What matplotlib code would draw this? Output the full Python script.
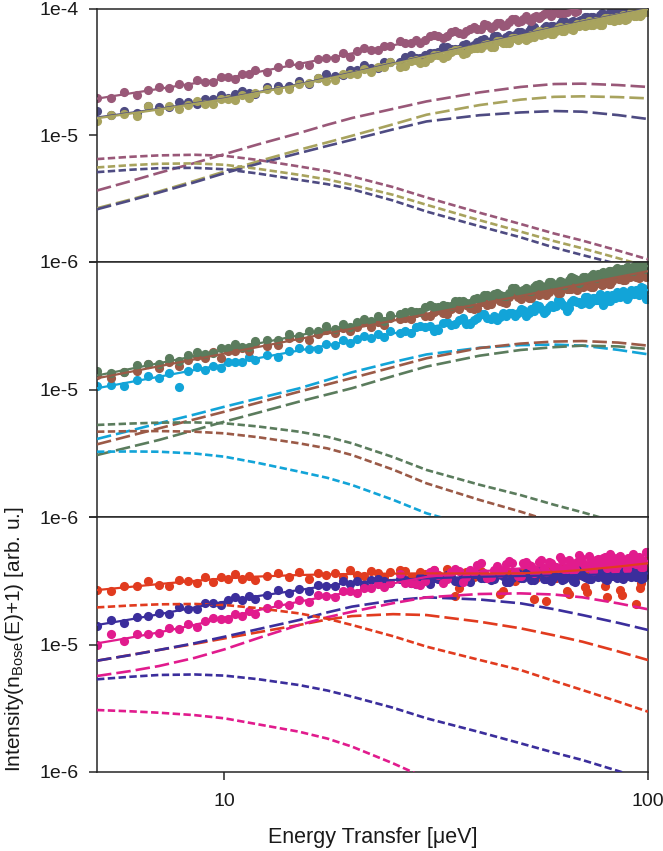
import numpy as np
import matplotlib
matplotlib.use("Agg")
import matplotlib.pyplot as plt
from matplotlib.ticker import NullLocator, FixedLocator, FixedFormatter

plt.rcParams['font.family'] = ['Liberation Sans', 'DejaVu Sans']
plt.rcParams['mathtext.fontset'] = 'custom'
plt.rcParams['mathtext.rm'] = 'Liberation Sans'
plt.rcParams['mathtext.it'] = 'Liberation Sans:italic'

# ---------------- data (energies in ueV, intensities stored as log10) ----------------
E = [5.0, 5.4, 5.8, 6.2, 6.6, 7.0, 7.4, 7.8, 8.2, 8.6, 9.0, 9.4, 9.8, 10.2, 10.6, 11.0, 11.4, 11.8,
     12.6, 13.4, 14.2, 15.0, 15.8, 16.6, 17.4, 18.2, 19.0, 19.8, 20.6, 21.4, 22.2, 23.0, 23.8, 24.6,
     26.0, 27.5, 29.0, 30.5, 32.0, 33.5, 35.0, 36.5, 38.0, 39.5, 41.0, 42.5, 44.0, 45.5, 47.0, 48.5,
     50.0, 51.5, 53.0, 54.5, 56.0, 57.5, 59.0, 60.5, 62.0, 63.5, 65.0, 66.5, 68.0, 69.5, 71.0, 72.5,
     74.0, 75.5, 77.0, 78.5, 80.0, 81.5, 83.0, 84.5, 86.0, 87.5, 89.0, 90.5, 92.0, 93.5, 95.0, 96.5,
     98.0, 99.5]
# interleaved high-energy points
E_hi = [26.75, 28.25, 29.75, 31.25, 32.75, 34.25, 35.75, 37.25, 38.75, 40.25, 41.75, 43.25, 44.75,
        46.25, 47.75, 49.25, 50.75, 52.25, 53.75, 55.25, 56.75, 58.25, 59.75, 61.25, 62.75, 64.25,
        65.75, 67.25, 68.75, 70.25, 71.75, 73.25, 74.75, 76.25, 77.75, 79.25, 80.75, 82.25, 83.75,
        85.25, 86.75, 88.25, 89.75, 91.25, 92.75, 94.25, 95.75, 97.25, 98.75]

# x positions of the fitted curves
E_fit = [5, 7, 10, 15, 20, 30, 50, 70, 100]
E_comp = [5, 6, 7, 8.5, 10, 12, 15, 17.5, 20, 25, 30, 40, 50, 60, 70, 85, 100]

# ---- top panel ----
top_mauve_log10 = [-4.703, -4.706, -4.662, -4.682, -4.643, -4.616, -4.630, -4.598, -4.614, -4.566, -4.577, -4.579,
                   -4.542, -4.541, -4.557, -4.514, -4.519, -4.485, -4.503, -4.461, -4.429, -4.445, -4.442, -4.396,
                   -4.390, -4.393, -4.353, -4.381, -4.338, -4.315, -4.329, -4.330, -4.292, -4.295, -4.255, -4.271,
                   -4.269, -4.218, -4.216, -4.219, -4.174, -4.198, -4.162, -4.163, -4.124, -4.150, -4.117, -4.139,
                   -4.105, -4.084, -4.100, -4.063, -4.099, -4.059, -4.059, -4.039, -4.060, -4.012, -4.034, -4.034,
                   -4.000, -4.005, -4.023]
top_mauve_hi = [-4.275, -4.250, -4.250, -4.213, -4.234, -4.183, -4.196, -4.178, -4.145, -4.164, -4.131, -4.138,
                -4.116, -4.130, -4.079, -4.106, -4.080, -4.087, -4.069, -4.077, -4.041, -4.036, -4.038, -4.035,
                -4.014, -4.027, -3.999, -4.030]
top_purple_log10 = [-4.812, -4.841, -4.807, -4.821, -4.770, -4.780, -4.780, -4.740, -4.738, -4.754, -4.711, -4.717,
                    -4.684, -4.709, -4.675, -4.648, -4.670, -4.672, -4.622, -4.612, -4.612, -4.569, -4.592, -4.545,
                    -4.518, -4.529, -4.527, -4.486, -4.485, -4.449, -4.469, -4.469, -4.421, -4.423, -4.420, -4.370,
                    -4.389, -4.348, -4.344, -4.301, -4.323, -4.286, -4.305, -4.268, -4.244, -4.257, -4.218, -4.251,
                    -4.209, -4.206, -4.185, -4.204, -4.155, -4.174, -4.174, -4.137, -4.141, -4.157, -4.122, -4.102,
                    -4.123, -4.096, -4.117, -4.094, -4.064, -4.094, -4.068, -4.090, -4.049, -4.055, -4.061, -4.028,
                    -4.054, -4.025, -4.056, -4.019, -4.006, -4.021, -4.028, -4.000, -4.015, -3.983, -4.014, -3.985]
top_purple_hi = [-4.385, -4.394, -4.363, -4.354, -4.307, -4.316, -4.323, -4.284, -4.289, -4.248, -4.263, -4.218,
                 -4.241, -4.226, -4.224, -4.182, -4.205, -4.178, -4.147, -4.194, -4.150, -4.143, -4.137, -4.148,
                 -4.096, -4.127, -4.108, -4.113, -4.096, -4.097, -4.071, -4.067, -4.081, -4.082, -4.032, -4.068,
                 -4.041, -4.057, -4.034, -4.029, -4.046, -3.995, -4.018, -4.039, -4.004, -4.014, -3.983, -4.001,
                 -4.020]
top_olive_log10 = [-4.884, -4.840, -4.836, -4.848, -4.770, -4.807, -4.771, -4.795, -4.759, -4.733, -4.754, -4.756,
                   -4.715, -4.712, -4.718, -4.679, -4.709, -4.667, -4.637, -4.643, -4.639, -4.596, -4.591, -4.552,
                   -4.569, -4.568, -4.518, -4.517, -4.520, -4.476, -4.500, -4.464, -4.464, -4.426, -4.460, -4.418,
                   -4.433, -4.392, -4.364, -4.373, -4.331, -4.362, -4.317, -4.312, -4.288, -4.305, -4.254, -4.271,
                   -4.269, -4.230, -4.233, -4.248, -4.211, -4.190, -4.210, -4.181, -4.201, -4.177, -4.146, -4.174,
                   -4.147, -4.168, -4.125, -4.130, -4.136, -4.102, -4.128, -4.098, -4.129, -4.091, -4.077, -4.092,
                   -4.098, -4.069, -4.084, -4.052, -4.082, -4.053, -4.034, -4.056, -4.031, -4.054, -4.012, -4.029]
top_olive_hi = [-4.451, -4.409, -4.420, -4.368, -4.388, -4.347, -4.325, -4.354, -4.313, -4.310, -4.283, -4.304,
                -4.256, -4.275, -4.231, -4.249, -4.229, -4.232, -4.223, -4.176, -4.203, -4.186, -4.203, -4.152,
                -4.179, -4.144, -4.160, -4.140, -4.140, -4.111, -4.129, -4.132, -4.111, -4.100, -4.134, -4.072,
                -4.090, -4.076, -4.091, -4.091, -4.058, -4.089, -4.063, -4.027, -4.057, -4.037, -4.062, -4.031,
                -3.997]
top_mauve_fit = [-4.711, -4.634, -4.553, -4.437, -4.354, -4.238, -4.092, -3.995, -3.890]
top_purple_fit = [-4.860, -4.792, -4.711, -4.597, -4.507, -4.373, -4.209, -4.104, -4.000]
top_olive_fit = [-4.866, -4.797, -4.716, -4.602, -4.512, -4.378, -4.214, -4.109, -4.005]
top_mauve_long = [-5.436, -5.362, -5.297, -5.219, -5.149, -5.072, -4.983, -4.917, -4.864, -4.792, -4.733, -4.662,
                  -4.619, -4.596, -4.593, -4.604, -4.619]
top_olive_long = [-5.576, -5.507, -5.444, -5.360, -5.286, -5.206, -5.115, -5.056, -5.004, -4.914, -4.838, -4.762,
                  -4.719, -4.697, -4.693, -4.699, -4.709]
top_purple_long = [-5.584, -5.514, -5.452, -5.371, -5.299, -5.225, -5.141, -5.084, -5.036, -4.954, -4.891, -4.842,
                   -4.820, -4.809, -4.814, -4.841, -4.872]
top_mauve_short = [-5.188, -5.170, -5.159, -5.154, -5.162, -5.195, -5.246, -5.283, -5.325, -5.409, -5.491, -5.611,
                   -5.700, -5.775, -5.831, -5.910, -5.979]
top_olive_short = [-5.254, -5.236, -5.225, -5.222, -5.233, -5.265, -5.312, -5.349, -5.391, -5.470, -5.549, -5.670,
                   -5.760, -5.835, -5.892, -5.970, -6.037]
top_purple_short = [-5.291, -5.272, -5.260, -5.257, -5.268, -5.302, -5.352, -5.386, -5.426, -5.515, -5.602, -5.718,
                    -5.805, -5.886, -5.945, -6.017, -6.076]

# ---- middle panel ----
mid_green_log10 = [-4.858, -4.868, -4.860, -4.809, -4.798, -4.798, -4.754, -4.779, -4.732, -4.707, -4.718, -4.717,
                   -4.677, -4.677, -4.643, -4.664, -4.666, -4.620, -4.613, -4.612, -4.563, -4.583, -4.544, -4.542,
                   -4.500, -4.524, -4.487, -4.507, -4.472, -4.450, -4.463, -4.424, -4.459, -4.417, -4.409, -4.382,
                   -4.394, -4.340, -4.354, -4.349, -4.308, -4.308, -4.321, -4.281, -4.259, -4.277, -4.247, -4.265,
                   -4.240, -4.207, -4.234, -4.205, -4.225, -4.182, -4.186, -4.190, -4.154, -4.179, -4.149, -4.177,
                   -4.139, -4.124, -4.138, -4.144, -4.114, -4.128, -4.095, -4.124, -4.095, -4.075, -4.095, -4.070,
                   -4.093, -4.050, -4.067, -4.074, -4.041, -4.046, -4.067, -4.030, -4.042, -4.013, -4.045, -4.017]
mid_green_hi = [-4.390, -4.392, -4.355, -4.355, -4.336, -4.343, -4.306, -4.321, -4.291, -4.288, -4.260, -4.248,
                -4.258, -4.265, -4.204, -4.231, -4.216, -4.231, -4.198, -4.172, -4.196, -4.154, -4.171, -4.178,
                -4.153, -4.164, -4.116, -4.133, -4.161, -4.119, -4.135, -4.106, -4.118, -4.094, -4.089, -4.103,
                -4.071, -4.084, -4.064, -4.071, -4.051, -4.064, -4.040, -4.073, -4.035, -4.046, -4.026, -4.011,
                -4.051]
mid_brown_log10 = [-4.886, -4.911, -4.860, -4.856, -4.801, -4.832, -4.786, -4.813, -4.767, -4.738, -4.756, -4.707,
                   -4.752, -4.699, -4.699, -4.672, -4.699, -4.637, -4.658, -4.652, -4.598, -4.598, -4.614, -4.564,
                   -4.534, -4.558, -4.519, -4.544, -4.512, -4.471, -4.507, -4.470, -4.497, -4.440, -4.446, -4.446,
                   -4.394, -4.422, -4.376, -4.410, -4.356, -4.333, -4.364, -4.357, -4.311, -4.327, -4.281, -4.317,
                   -4.277, -4.250, -4.289, -4.254, -4.283, -4.226, -4.247, -4.255, -4.210, -4.216, -4.244, -4.194,
                   -4.209, -4.176, -4.217, -4.180, -4.153, -4.188, -4.198, -4.150, -4.156, -4.171, -4.128, -4.175,
                   -4.129, -4.108, -4.134, -4.145, -4.103, -4.114, -4.078, -4.114, -4.126, -4.074, -4.086, -4.103]
mid_brown_hi = [-4.441, -4.397, -4.424, -4.396, -4.403, -4.367, -4.371, -4.341, -4.366, -4.313, -4.337, -4.291,
                -4.302, -4.320, -4.238, -4.278, -4.267, -4.285, -4.245, -4.258, -4.233, -4.236, -4.205, -4.243,
                -4.196, -4.212, -4.211, -4.194, -4.183, -4.193, -4.158, -4.198, -4.153, -4.161, -4.180, -4.140,
                -4.175, -4.147, -4.101, -4.134, -4.132, -4.145, -4.106, -4.070, -4.109, -4.102, -4.108, -4.070,
                -4.116]
mid_cyan_log10 = [-4.974, -4.966, -4.970, -4.924, -4.895, -4.907, -4.873, -4.983, -4.857, -4.820, -4.844, -4.812,
                  -4.829, -4.782, -4.784, -4.786, -4.748, -4.771, -4.729, -4.749, -4.701, -4.678, -4.684, -4.683,
                  -4.646, -4.654, -4.615, -4.639, -4.605, -4.581, -4.597, -4.567, -4.586, -4.539, -4.554, -4.560,
                  -4.502, -4.505, -4.536, -4.473, -4.488, -4.439, -4.487, -4.439, -4.405, -4.447, -4.458, -4.398,
                  -4.403, -4.420, -4.368, -4.425, -4.367, -4.341, -4.372, -4.385, -4.334, -4.347, -4.303, -4.348,
                  -4.362, -4.298, -4.312, -4.332, -4.276, -4.329, -4.285, -4.299, -4.250, -4.337, -4.260, -4.306,
                  -4.264, -4.239, -4.274, -4.225, -4.291, -4.235, -4.244, -4.221, -4.262, -4.194, -4.235, -4.290]
mid_cyan_hi = [-4.545, -4.510, -4.507, -4.539, -4.475, -4.496, -4.458, -4.487, -4.454, -4.404, -4.438, -4.426,
               -4.434, -4.422, -4.397, -4.403, -4.373, -4.399, -4.384, -4.342, -4.400, -4.351, -4.353, -4.301,
               -4.332, -4.382, -4.312, -4.308, -4.310, -4.322, -4.273, -4.316, -4.286, -4.299, -4.273, -4.314,
               -4.280, -4.258, -4.282, -4.248, -4.256, -4.240, -4.275, -4.216, -4.254, -4.239, -4.237, -4.200,
               -4.290]
mid_green_fit = [-4.890, -4.794, -4.691, -4.575, -4.493, -4.377, -4.230, -4.134, -4.031]
mid_brown_fit = [-4.912, -4.818, -4.718, -4.604, -4.523, -4.409, -4.266, -4.172, -4.072]
mid_cyan_fit = [-4.990, -4.900, -4.803, -4.694, -4.617, -4.514, -4.389, -4.306, -4.219]
mid_cyan_long = [-5.388, -5.322, -5.265, -5.196, -5.135, -5.070, -4.991, -4.925, -4.865, -4.785, -4.725, -4.673,
                 -4.652, -4.648, -4.656, -4.689, -4.724]
mid_brown_long = [-5.430, -5.362, -5.305, -5.234, -5.174, -5.104, -5.017, -4.960, -4.910, -4.825, -4.755, -4.675,
                  -4.640, -4.624, -4.620, -4.632, -4.656]
mid_green_long = [-5.514, -5.450, -5.396, -5.318, -5.252, -5.182, -5.095, -5.039, -4.990, -4.895, -4.820, -4.735,
                  -4.690, -4.668, -4.656, -4.662, -4.682]
mid_green_short = [-5.278, -5.267, -5.260, -5.258, -5.265, -5.290, -5.331, -5.371, -5.422, -5.530, -5.631, -5.747,
                   -5.828, -5.904, -5.963, -6.044, -6.115]
mid_brown_short = [-5.331, -5.327, -5.326, -5.331, -5.344, -5.374, -5.422, -5.462, -5.514, -5.628, -5.736, -5.866,
                   -5.958, -6.041, -6.102, -6.180, -6.246]
mid_cyan_short = [-5.488, -5.486, -5.488, -5.502, -5.527, -5.576, -5.644, -5.693, -5.749, -5.865, -5.971, -6.087,
                  -6.167, -6.240, -6.298, -6.381, -6.455]

# ---- bottom panel ----
bot_red_log10 = [-4.575, -4.581, -4.538, -4.543, -4.505, -4.536, -4.543, -4.493, -4.501, -4.514, -4.470, -4.508,
                 -4.474, -4.485, -4.448, -4.489, -4.459, -4.494, -4.461, -4.443, -4.469, -4.431, -4.483, -4.442,
                 -4.451, -4.436, -4.467, -4.418, -4.452, -4.460, -4.427, -4.440, -4.469, -4.434, -4.414, -4.469,
                 -4.428, -4.484, -4.452, -4.404, -4.620, -4.436, -4.492, -4.420, -4.444, -4.468, -4.412, -4.580,
                 -4.428, -4.500, -4.436, -4.418, -4.456, -4.477, -4.427, -4.660, -4.409, -4.477, -4.427, -4.397,
                 -4.600, -4.406, -4.460, -4.383, -4.550, -4.445, -4.386, -4.403, -4.452, -4.385, -4.630, -4.363,
                 -4.433, -4.382, -4.570, -4.409, -4.430, -4.364, -4.377, -4.680, -4.349, -4.520, -4.360, -4.334]
bot_red_hi = [-4.424, -4.472, -4.448, -4.416, -4.492, -4.440, -4.560, -4.428, -4.468, -4.420, -4.480, -4.448,
              -4.600, -4.432, -4.488, -4.436, -4.423, -4.453, -4.640, -4.404, -4.462, -4.432, -4.470, -4.424,
              -4.410, -4.580, -4.395, -4.437, -4.455, -4.405, -4.590, -4.387, -4.420, -4.453, -4.390, -4.540,
              -4.392, -4.418, -4.367, -4.405, -4.610, -4.367, -4.393, -4.370, -4.408, -4.342, -4.560, -4.369,
              -4.407]
bot_indigo_log10 = [-4.855, -4.808, -4.834, -4.786, -4.777, -4.751, -4.764, -4.708, -4.722, -4.718, -4.676, -4.676,
                    -4.689, -4.651, -4.631, -4.651, -4.623, -4.643, -4.612, -4.574, -4.597, -4.565, -4.582, -4.536,
                    -4.539, -4.542, -4.505, -4.529, -4.500, -4.533, -4.498, -4.487, -4.504, -4.514, -4.490, -4.517,
                    -4.470, -4.522, -4.483, -4.458, -4.499, -4.465, -4.509, -4.446, -4.480, -4.498, -4.452, -4.466,
                    -4.507, -4.455, -4.479, -4.440, -4.498, -4.458, -4.432, -4.483, -4.501, -4.449, -4.462, -4.486,
                    -4.441, -4.504, -4.453, -4.433, -4.471, -4.490, -4.444, -4.462, -4.424, -4.474, -4.492, -4.433,
                    -4.453, -4.477, -4.426, -4.483, -4.443, -4.462, -4.417, -4.473, -4.435, -4.485, -4.447, -4.426]
bot_indigo_hi = [-4.491, -4.523, -4.490, -4.481, -4.487, -4.469, -4.508, -4.484, -4.446, -4.479, -4.467, -4.485,
                 -4.446, -4.513, -4.475, -4.438, -4.479, -4.466, -4.491, -4.426, -4.490, -4.482, -4.481, -4.430,
                 -4.496, -4.448, -4.476, -4.508, -4.411, -4.462, -4.475, -4.486, -4.440, -4.469, -4.427, -4.486,
                 -4.453, -4.459, -4.436, -4.465, -4.477, -4.460, -4.434, -4.472, -4.429, -4.460, -4.434, -4.476,
                 -4.456]
bot_magenta_log10 = [-5.003, -4.915, -4.973, -4.920, -4.916, -4.913, -4.867, -4.882, -4.842, -4.863, -4.816, -4.794,
                     -4.801, -4.800, -4.764, -4.773, -4.734, -4.758, -4.714, -4.681, -4.689, -4.652, -4.666, -4.615,
                     -4.623, -4.624, -4.584, -4.583, -4.597, -4.555, -4.560, -4.526, -4.552, -4.519, -4.444, -4.517,
                     -4.536, -4.434, -4.451, -4.490, -4.405, -4.511, -4.417, -4.378, -4.440, -4.469, -4.386, -4.415,
                     -4.344, -4.429, -4.459, -4.354, -4.385, -4.427, -4.334, -4.431, -4.361, -4.391, -4.311, -4.409,
                     -4.338, -4.425, -4.355, -4.319, -4.384, -4.305, -4.427, -4.337, -4.358, -4.323, -4.401, -4.288,
                     -4.365, -4.387, -4.308, -4.341, -4.407, -4.328, -4.293, -4.370, -4.314, -4.392, -4.346, -4.278]
bot_magenta_hi = [-4.516, -4.522, -4.500, -4.418, -4.516, -4.428, -4.423, -4.469, -4.428, -4.359, -4.480, -4.418,
                  -4.441, -4.365, -4.357, -4.464, -4.362, -4.380, -4.441, -4.356, -4.398, -4.356, -4.381, -4.401,
                  -4.335, -4.409, -4.367, -4.410, -4.297, -4.362, -4.390, -4.336, -4.387, -4.328, -4.371, -4.312,
                  -4.360, -4.317, -4.416, -4.313, -4.350, -4.369, -4.323, -4.361, -4.317, -4.352, -4.323, -4.389,
                  -4.272]
bot_red_fit = [-4.573, -4.548, -4.526, -4.501, -4.481, -4.467, -4.455, -4.450, -4.447, -4.444, -4.442, -4.443,
               -4.442, -4.431, -4.416, -4.389, -4.363]
bot_indigo_fit = [-4.847, -4.803, -4.763, -4.709, -4.664, -4.620, -4.573, -4.538, -4.515, -4.494, -4.481, -4.469,
                  -4.463, -4.459, -4.455, -4.448, -4.442]
bot_magenta_fit = [-4.991, -4.946, -4.905, -4.846, -4.790, -4.731, -4.664, -4.621, -4.586, -4.521, -4.470, -4.427,
                   -4.403, -4.378, -4.363, -4.352, -4.345]
bot_red_long = [-5.127, -5.082, -5.043, -4.995, -4.952, -4.904, -4.847, -4.804, -4.777, -4.762, -4.769, -4.821,
                -4.873, -4.928, -4.978, -5.054, -5.122]
bot_indigo_long = [-5.127, -5.083, -5.043, -4.990, -4.939, -4.880, -4.808, -4.748, -4.703, -4.654, -4.630, -4.647,
                   -4.677, -4.723, -4.769, -4.830, -4.886]
bot_magenta_long = [-5.247, -5.208, -5.169, -5.105, -5.038, -4.950, -4.847, -4.786, -4.743, -4.676, -4.630, -4.604,
                    -4.599, -4.608, -4.630, -4.677, -4.724]
bot_red_short = [-4.709, -4.694, -4.685, -4.682, -4.690, -4.715, -4.756, -4.798, -4.847, -4.935, -5.017, -5.121,
                 -5.200, -5.286, -5.357, -5.448, -5.527]
bot_indigo_short = [-5.273, -5.253, -5.239, -5.235, -5.244, -5.272, -5.318, -5.361, -5.409, -5.496, -5.579, -5.687,
                    -5.775, -5.848, -5.906, -5.992, -6.068]
bot_magenta_short = [-5.514, -5.524, -5.535, -5.554, -5.579, -5.626, -5.684, -5.738, -5.801, -5.932, -6.050, -6.175,
                     -6.259, -6.340, -6.403, -6.487, -6.560]

# colours
C_MAUVE, C_PURPLE, C_OLIVE = '#995878', '#4e4b82', '#a8a35e'
C_BROWN, C_GREEN, C_CYAN = '#9b5a47', '#5b7c5d', '#12a4d8'
C_RED, C_INDIGO, C_MAGENTA = '#e13b1f', '#3b2e9c', '#e11b8d'

panels = [
    dict(data=[(top_purple_log10, top_purple_hi, C_PURPLE), (top_olive_log10, top_olive_hi, C_OLIVE),
               (top_mauve_log10, top_mauve_hi, C_MAUVE)],
         fits=[(E_fit, top_mauve_fit, C_MAUVE), (E_fit, top_purple_fit, C_PURPLE), (E_fit, top_olive_fit, C_OLIVE)],
         longs=[(top_mauve_long, C_MAUVE), (top_olive_long, C_OLIVE), (top_purple_long, C_PURPLE)],
         shorts=[(top_mauve_short, C_MAUVE), (top_olive_short, C_OLIVE), (top_purple_short, C_PURPLE)],
         labels=['1e-6', '1e-5', '1e-4']),
    dict(data=[(mid_cyan_log10, mid_cyan_hi, C_CYAN), (mid_brown_log10, mid_brown_hi, C_BROWN),
               (mid_green_log10, mid_green_hi, C_GREEN)],
         fits=[(E_fit, mid_cyan_fit, C_CYAN), (E_fit, mid_green_fit, C_GREEN), (E_fit, mid_brown_fit, C_BROWN)],
         longs=[(mid_cyan_long, C_CYAN), (mid_brown_long, C_BROWN), (mid_green_long, C_GREEN)],
         shorts=[(mid_green_short, C_GREEN), (mid_brown_short, C_BROWN), (mid_cyan_short, C_CYAN)],
         labels=['1e-6', '1e-5', '']),
    dict(data=[(bot_red_log10, bot_red_hi, C_RED), (bot_indigo_log10, bot_indigo_hi, C_INDIGO),
               (bot_magenta_log10, bot_magenta_hi, C_MAGENTA)],
         fits=[(E_comp, bot_indigo_fit, C_INDIGO), (E_comp, bot_magenta_fit, C_MAGENTA), (E_comp, bot_red_fit, C_RED)],
         longs=[(bot_red_long, C_RED), (bot_indigo_long, C_INDIGO), (bot_magenta_long, C_MAGENTA)],
         shorts=[(bot_red_short, C_RED), (bot_indigo_short, C_INDIGO), (bot_magenta_short, C_MAGENTA)],
         labels=['1e-6', '1e-5', '']),
]

W, H = 663, 851
fig = plt.figure(figsize=(W / 100, H / 100), dpi=100)

left_px, right_px = 97, 648
tops = [8.5, 262, 517, 772]
SPINE = '#262626'
TXT = '#1a1a1a'
LONG = (0, (5.5, 1.9))
SHORT = (0, (2.8, 1.3))
E_arr = np.array(E)
Eh_arr = np.array(E_hi)
Ec = np.array(E_comp)

for k, p in enumerate(panels):
    y0, y1 = tops[k], tops[k + 1]
    ax = fig.add_axes([left_px / W, 1 - y1 / H, (right_px - left_px) / W, (y1 - y0) / H])
    ax.set_xscale('log')
    ax.set_yscale('log')
    for vals, hi, c in p['data']:
        v = 10 ** np.array(vals)
        vh = 10 ** np.array(hi)
        xx = np.concatenate([E_arr[:len(v)], Eh_arr[:len(vh)]])
        yy = np.concatenate([v, vh])
        order = np.argsort(xx)
        ax.plot(xx[order], yy[order], 'o', ms=6.6, mew=0, color=c, zorder=2)
    for vals, c in p['longs']:
        ax.plot(Ec, 10 ** np.array(vals), color=c, lw=1.9, ls=LONG, zorder=3)
    for vals, c in p['shorts']:
        ax.plot(Ec, 10 ** np.array(vals), color=c, lw=1.9, ls=SHORT, zorder=3)
    for xs, vals, c in p['fits']:
        ax.plot(np.array(xs), 10 ** np.array(vals), color=c, lw=1.6, ls='-', zorder=4)
    ax.set_xlim(5, 100)
    ax.set_ylim(1e-6, 1e-4)
    ax.yaxis.set_major_locator(FixedLocator([1e-6, 1e-5, 1e-4]))
    ax.yaxis.set_major_formatter(FixedFormatter(p['labels']))
    ax.yaxis.set_minor_locator(NullLocator())
    ax.xaxis.set_minor_locator(NullLocator())
    ax.xaxis.set_major_locator(FixedLocator([10, 100]))
    ax.xaxis.set_major_formatter(FixedFormatter(['10', '100']))
    for s in ax.spines.values():
        s.set_color(SPINE)
        s.set_linewidth(1.1)
    ax.tick_params(axis='y', direction='out', length=6, width=1.1, color=SPINE,
                   labelsize=14, pad=7, labelcolor=TXT)
    if k < 2:
        ax.tick_params(axis='x', length=0, labelbottom=False)
    else:
        ax.tick_params(axis='x', direction='out', length=6, width=1.1, color=SPINE,
                       labelsize=14, pad=9, labelcolor=TXT)

fig.text((left_px + right_px) / 2 / W, 1 - 838 / H, 'Energy Transfer [μeV]',
         ha='center', va='center', fontsize=15.5, color=TXT)
fig.text(3 / W, 1 - 639 / H, r'Intensity(n$_{\mathrm{Bose}}$(E)+1) [arb. u.]',
         ha='left', va='center', rotation=90, fontsize=15, color=TXT)

fig.savefig('out.png', dpi=100)
